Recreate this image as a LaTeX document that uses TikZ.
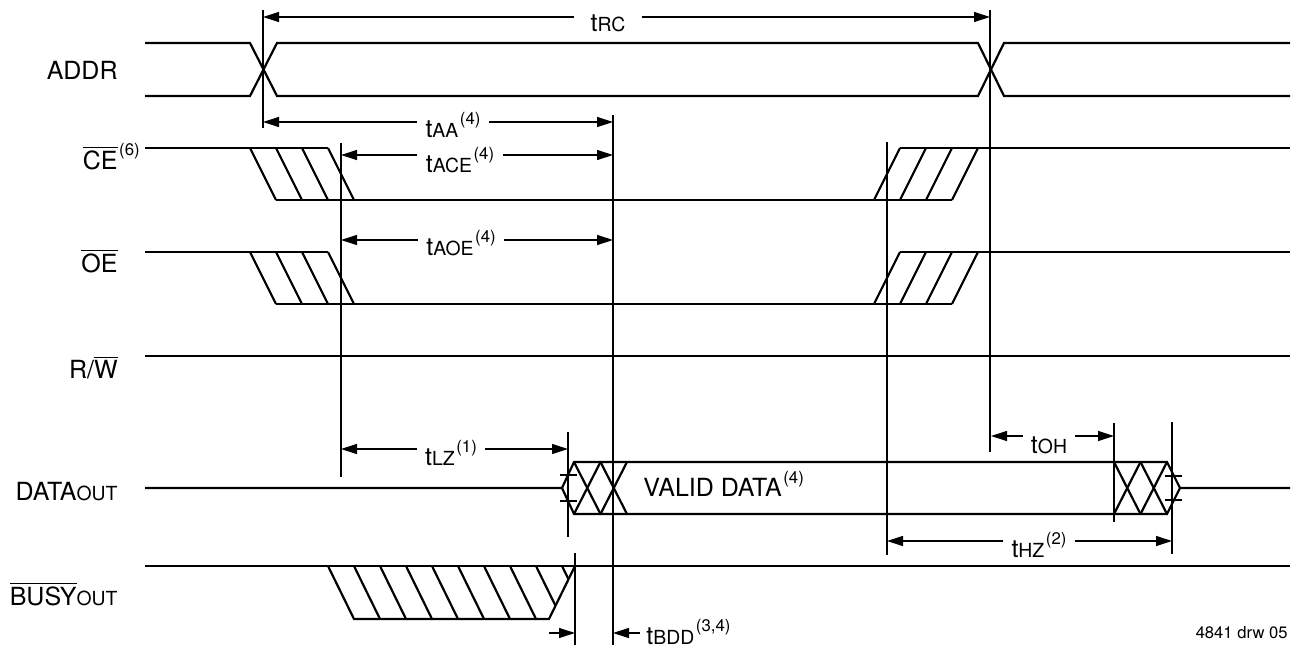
\documentclass[tikz,border=0pt]{standalone}
\usepackage{fontspec}
\setmainfont{TeX Gyre Heros}
\usetikzlibrary{positioning}
\usetikzlibrary{arrows.meta}

\newcommand{\tm}[1]{t{\fontsize{9.7}{10}\selectfont #1}}
\newcommand{\tn}[1]{\kern0.8pt\raisebox{6.5pt}{\fontsize{8.4}{9}\selectfont(#1)}}
\newcommand{\ovl}[1]{$\overline{\mbox{#1}}$}
\newcommand{\low}[1]{{\fontsize{9.7}{10}\selectfont #1}}

\begin{document}
\begin{tikzpicture}[x=0.5pt, y=-0.5pt,
    sig/.style={line width=1.1pt},
    guide/.style={line width=0.6pt},
    dimline/.style={line width=0.6pt, -{Triangle[length=8pt,width=5pt]}},
    signame/.style={anchor=base east, inner sep=0pt, font=\fontsize{12.5}{14}\selectfont},
    dimlbl/.style={anchor=base, inner xsep=4pt, inner ysep=0pt, font=\fontsize{12.5}{14}\selectfont}]
    \useasboundingbox (0,0) rectangle (1292,648);

    % signal names
    \node[signame] (addr) at (118,79) {ADDR};
    \node[signame] (ce) at (118,169) {\ovl{CE}\rlap{\tn{6}}};
    \node[signame] (oe) at (118,272) {\ovl{OE}};
    \node[signame] (rw) at (118,378) {R/\ovl{W}};
    \node[signame] (dout) at (118,500) {DATA\low{OUT}};
    \node[signame] (bout) at (118,605) {\ovl{BUSY}\low{OUT}};

    % ADDR
    \draw[sig] (145,43) -- (250,43) -- (277,96) -- (978,96) -- (1004,43) -- (1290,43);
    \draw[sig] (145,96) -- (250,96) -- (277,43) -- (978,43) -- (1004,96) -- (1290,96);

    % CE and OE
    \foreach \y in {148,252} {
        \draw[sig] (145,\y) -- (328,\y);
        \draw[sig] (276,\y+52) -- (952,\y+52);
        \draw[sig] (900,\y) -- (1290,\y);
        \foreach \x in {250,276,302,328}
            \draw[sig] (\x,\y) -- ++(26,52);
        \foreach \x in {874,900,926,952}
            \draw[sig] (\x,\y+52) -- ++(26,-52);
    }

    % R/W
    \draw[sig] (145,356) -- (1290,356);

    % DATA out
    \draw[sig] (145,488) -- (562,488) -- (574,462) -- (1167,462) -- (1180,488) -- (1290,488);
    \draw[sig] (562,488) -- (574,514) -- (1167,514) -- (1180,488);
    \foreach \x in {574,600.5,1114,1140.5} {
        \draw[sig] (\x,462) -- ++(26.5,52);
        \draw[sig] (\x,514) -- ++(26.5,-52);
    }
    \foreach \x/\y in {560/475,560/501,1165/476,1165/500}
        \draw[guide] (\x,\y) -- ++(17,0);

    % BUSY out
    \draw[sig] (145,566) -- (1290,566);
    \draw[sig] (328,566) -- (354,619) -- (549,619) -- (575,566);
    \begin{scope}
        \clip (328,566) -- (575,566) -- (549,619) -- (354,619) -- cycle;
        \foreach \k in {1,...,9}
            \draw[sig] ({328+26*\k},566) -- ++(26,53);
    \end{scope}

    % reference lines
    \foreach \x/\a/\b in {263/10/128, 990/10/452, 341/143/477, 613/115/645,
        887/142/555, 568/432/537, 1114/423/522, 1172/422/554, 575/553/645}
        \draw[guide] (\x,\a) -- (\x,\b);

    % timing parameters
    \coordinate (rc1) at (263,17);   \coordinate (rc2) at (990,17);
    \coordinate (aa1) at (263,122);  \coordinate (aa2) at (613,122);
    \coordinate (ace1) at (341,155); \coordinate (ace2) at (613,155);
    \coordinate (aoe1) at (341,240); \coordinate (aoe2) at (613,240);
    \coordinate (lz1) at (341,449);  \coordinate (lz2) at (568,449);
    \coordinate (oh1) at (991,436);  \coordinate (oh2) at (1114,436);
    \coordinate (hz1) at (887,541);  \coordinate (hz2) at (1172,541);
    \coordinate (bd0) at (549,633);  \coordinate (bd1) at (575,633);
    \coordinate (bd2) at (613,633);

    \node[dimlbl, inner xsep=8pt] (trc) at (608,32) {\tm{RC}};
    \node[dimlbl] (taa) at (453,137) {\tm{AA}\tn{4}};
    \node[dimlbl] (tace) at (460,172) {\tm{ACE}\tn{4}};
    \node[dimlbl] (taoe) at (461,255) {\tm{AOE}\tn{4}};
    \node[dimlbl] (tlz) at (451,465) {\tm{LZ}\tn{1}};
    \node[dimlbl] (toh) at (1049,453) {\tm{OH}};
    \node[dimlbl] (thz) at (1039,557) {\tm{HZ}\tn{2}};
    \node[dimlbl, anchor=base west, inner xsep=3pt] (tbdd) at (640,644) {\tm{BDD}\tn{3,4}};

    \foreach \lbl/\p in {trc/rc, taa/aa, tace/ace, taoe/aoe, tlz/lz, toh/oh, thz/hz} {
        \draw[dimline] (\lbl.west |- \p1) -- (\p1);
        \draw[dimline] (\lbl.east |- \p2) -- (\p2);
    }
    \draw[dimline] (bd0) -- (bd1);
    \draw[dimline] (tbdd.west |- bd2) -- (bd2);

    \node[anchor=base west, inner sep=0pt, font=\fontsize{12.5}{14}\selectfont] (valid) at (643,496) {VALID DATA\tn{4}};
    \node[anchor=base east, inner sep=0pt, font=\fontsize{8.3}{9}\selectfont] (drw) at (1288,638) {4841 drw 05};
\end{tikzpicture}
\end{document}
